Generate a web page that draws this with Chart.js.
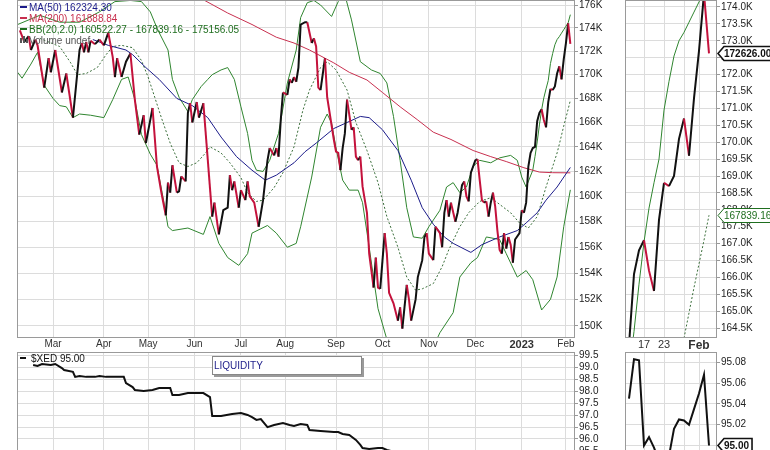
<!DOCTYPE html>
<html lang="en">
  <head>
    <meta charset="UTF-8" />
    <title>$XED Liquidity</title>
    <script src="https://cdn.jsdelivr.net/npm/chart.js"></script>
    <style>
      html, body { margin: 0; padding: 0; background: #fff; overflow: hidden; }
      canvas { position: absolute; }
    </style>
  </head>
  <body>
    <canvas id="mainChart" width="620" height="350" style="left:0;top:0"></canvas>
    <canvas id="zoomChart" width="150" height="350" style="left:620px;top:0"></canvas>
    <canvas id="xedChart" width="620" height="130" style="left:0;top:350px"></canvas>
    <canvas id="xedZoomChart" width="150" height="130" style="left:620px;top:350px"></canvas>
    <script>
      // x values are trading-day numbers, day 0 = early Feb 2022
      const monthDays = [16, 39, 59, 80, 101, 121, 144, 165, 186, 207, 228, 248];
      const monthLabels = ["Mar", "Apr", "May", "Jun", "Jul", "Aug", "Sep", "Oct", "Nov", "Dec", "2023", "Feb"];

      const zoomDays = [237, 241, 245, 248];
      const zoomLabels = ["17", "23", "", "Feb"];

      // price in thousands (swing points up to Jan 10)
      const closeDays = [1,3,5,6,8,9,12,14,15,17,20,22,25,28,29,30,31,32,33,35,37,39,41,43,44,45,47,49,51,53,55,57,58,61,63,65,67,68,69,70,72,73,74,76,77,78,79,81,82,84,88,89,91,93,95,96,97,98,100,101,103,104,105,107,109,111,113,114,116,117,118,119,120,122,123,124,125,126,127,128,130,131,133,134,135,136,137,139,140,143,144,145,146,147,148,149,151,152,153,154,155,156,158,159,161,162,163,164,166,167,168,170,172,173,174,176,177,178,180,181,183,184,185,186,188,189,191,192,193,194,195,196,198,199,201,202,203,204,205,207,208,209,210,211,212,213,214,215,216,217,218,219,220,221,222,223,224,225,227,228,229,230,231,232,233];
      const closeValues = [173.8,172.8,173.3,172.1,173.0,172.5,168.9,171.4,170.2,172.1,168.5,170.1,166.4,172.1,172.7,171.9,172.8,171.9,172.9,172.6,173.0,172.5,173.6,171.5,169.8,171.4,169.8,171.1,171.8,167.9,165.0,166.6,164.3,167.2,162.4,160.3,158.5,161.1,160.3,162.5,160.3,160.4,161.6,161.2,166.8,167.6,166.0,167.7,166.4,167.6,158.4,159.5,157.0,158.9,159.1,161.7,160.5,161.2,159.1,160.5,159.7,161.2,160.0,159.5,157.6,159.7,162.9,163.9,163.3,163.9,163.2,166.2,168.5,168.3,169.6,169.3,169.8,169.4,170.6,174.3,174.5,174.5,172.7,173.1,172.4,168.9,168.7,171.4,168.1,164.6,163.6,163.5,162.1,163.9,165.1,167.9,165.4,165.6,163.2,162.9,163.2,160.8,158.7,155.5,152.9,155.2,152.9,152.8,157.1,155.5,152.5,151.7,150.4,151.4,149.8,153.1,152.0,150.4,152.0,153.7,155.0,156.8,157.1,155.5,155.0,157.6,157.1,156.0,158.7,159.7,158.4,159.5,158.0,158.7,160.9,161.2,160.0,159.6,161.9,162.9,163.0,161.3,159.7,159.5,159.6,158.4,159.5,160.3,159.2,157.3,155.8,155.5,157.1,155.9,156.8,156.2,154.8,156.6,157.1,158.9,158.7,159.5,162.4,163.5,163.9];

      // last 17 sessions, Jan 11 - Feb 3 (shown in the zoom panels)
      const recentDays = [234,235,236,237,238,239,240,241,242,243,244,245,246,247,248,249,250];
      const recentClose = [164.0,166.1,166.8,167.1,166.2,165.6,167.7,168.8,168.7,169.0,170.1,170.7,169.6,171.3,172.7,174.4,172.626];
      const recentUpper = [163.2,164.4,165.8,167.05,168.05,168.8,169.5,170.95,171.8,172.55,173.0,173.25,173.55,173.85,174.15,174.45,175.15605];
      const recentXed = [95.045,95.083,95.082,95.0,95.008,94.998,94.985,94.98,94.99,95.016,95.025,95.024,95.02,95.035,95.05,95.068,95.0];
      const recentMidDays = [245,246,247,248,249,250];
      const recentMid = [164.2,164.95,165.7,166.4,167.1,167.83916];

      const ma50Days = [34,41,49,52,58,64,72,79,86,92,99,106,112,117,125,130,135,143,149,155,159,165,172,178,183,188,193,197,205,210,218,226,230,235,239,244,250];
      const ma50Values = [173.0,172.5,172.1,171.7,170.6,169.6,168.0,167.4,166.4,164.8,163.2,162.1,161.3,161.7,162.7,163.6,164.3,165.5,166.0,166.5,166.4,165.4,163.7,161.3,159.1,157.8,156.8,156.3,155.6,156.2,156.8,157.3,157.9,158.7,159.7,160.75,162.3243];

      const ma200Days = [78,95,106,117,125,132,143,150,158,165,173,181,188,196,206,214,221,229,236,242,250];
      const ma200Values = [177.1,175.3,174.3,173.2,172.7,172.1,171.0,170.2,169.55,168.5,167.3,166.2,165.2,164.6,163.7,163.2,162.8,162.3,161.95,161.9,161.88884];

      const bbUpperDays = [0,10,19,28,37,44,51,56,60,63,64,68,70,73,77,79,83,86,88,92,95,98,101,104,106,108,111,114,118,122,126,128,131,134,137,142,145,148,151,155,160,164,167,170,173,176,179,183,186,191,194,197,200,203,206,209,214,218,223,226,228,230,233];
      const bbUpperValues = [174.3,175.1,174.5,174.5,175.4,176.3,176.4,176.3,175.4,174.0,173.6,172.1,169.6,168.1,166.9,167.9,169.0,169.6,170.0,170.4,170.6,169.6,167.3,165.1,162.9,162.1,162.0,162.9,165.1,169.3,172.1,174.9,176.2,176.4,176.0,175.0,176.3,176.9,174.7,171.1,170.4,170.1,169.3,166.5,162.9,159.1,156.8,156.7,157.6,158.9,160.75,161.1,160.3,160.75,162.4,162.9,162.7,163.1,163.3,162.9,161.55,160.75,162.1];

      const bbMidDays = [10,19,24,27,31,36,40,43,47,52,56,59,62,65,69,73,77,81,85,87,92,96,101,104,108,111,116,120,125,129,132,137,140,144,149,153,158,163,167,172,176,180,183,188,192,195,200,204,209,214,217,223,227,231,235,239,244];
      const bbMidValues = [173.1,172.4,171.0,170.0,170.1,170.6,171.7,172.4,172.5,172.3,171.2,169.8,168.1,166.4,164.3,162.7,162.4,162.7,163.5,164.0,163.5,162.7,161.5,160.3,159.6,159.7,160.7,161.9,164.0,167.0,168.7,170.6,171.1,170.4,168.7,166.0,163.7,161.1,158.4,156.0,153.7,152.7,152.8,153.2,154.5,155.8,157.6,158.7,159.6,159.9,159.5,158.7,157.9,157.5,158.4,160.75,163.5];

      const bbLowerDays = [0,2,6,9,12,16,19,22,25,28,33,39,43,47,50,53,56,60,63,66,68,70,77,84,87,91,95,100,104,106,113,117,122,126,128,133,137,140,142,144,147,150,154,156,159,163,167,171,178,184,189,191,197,200,205,208,212,218,221,226,230,233,237,241,244,247,250];
      const bbLowerValues = [170.2,169.7,170.9,171.9,169.1,168.0,167.4,167.3,166.4,166.7,166.6,166.4,167.9,169.6,169.8,167.9,165.0,163.4,162.5,159.7,157.6,157.3,157.5,157.0,158.4,156.3,155.2,154.6,155.5,157.1,157.7,157.1,156.0,156.3,157.6,161.55,165.6,166.7,165.95,163.9,161.3,160.5,160.5,159.5,156.0,151.3,149.0,148.2,147.5,147.8,148.8,149.5,151.0,153.7,154.8,155.2,156.8,156.6,155.5,153.7,154.2,153.5,151.2,152.0,153.7,157.6,160.52227];

      const xedDays = [7,9,11,15,17,20,21,25,26,28,31,35,37,40,43,48,49,52,53,57,61,64,69,70,73,77,79,84,87,88,92,97,101,104,106,108,110,113,116,120,123,125,128,131,132,137,143,145,147,150,153,155,156,159,163,165,167,175,190,210,225];
      const xedValues = [99.11,99.07,99.15,99.11,99.15,98.98,98.90,98.82,98.61,98.65,98.61,98.61,98.65,98.61,98.61,98.61,98.35,98.18,98.06,98.02,98.06,98.14,98.14,97.85,97.85,97.93,97.93,97.93,97.76,96.97,96.97,97.05,97.09,97.01,96.92,96.80,96.84,96.50,96.59,96.67,96.59,96.55,96.63,96.59,96.38,96.34,96.29,96.29,96.21,96.17,95.96,95.75,95.62,95.58,95.62,95.62,95.54,95.35,95.2,95.1,95.05];

      const priceTicks = [150,152,154,156,158,160,162,164,166,168,170,172,174,176];
      const zoomTicks = [164.5,165,165.5,166,166.5,167,167.5,168,168.5,169,169.5,170,170.5,171,171.5,172,172.5,173,173.5,174];
      const xedTicks = [94.5,95,95.5,96,96.5,97,97.5,98,98.5,99,99.5];
      const xedZoomTicks = [94.98,95,95.02,95.04,95.06,95.08];

      const INK = "#111111";
      const RED = "#c4123c";
      const NAVY = "#1c1c8a";
      const MA200C = "#c8304f";
      const GREEN = "#2f852f";
      const GRID = "#dcdcdc";
      const FRAME = "#9a9a9a";
      const FONT = "'Liberation Sans', Arial, sans-serif";

      Chart.defaults.font.family = FONT;
      Chart.defaults.font.size = 10;
      Chart.defaults.color = "#222";

      const pts = (days, vals) => days.map((d, i) => ({ x: d, y: vals[i] }));
      const last = (a) => a[a.length - 1];
      const thousands = (v) => (v * 1000).toFixed(2);

      const allClose = pts(closeDays.concat(recentDays), closeValues.concat(recentClose));
      const allUpper = pts(bbUpperDays.concat(recentDays), bbUpperValues.concat(recentUpper));
      const allMid = pts(bbMidDays.concat(recentMidDays), bbMidValues.concat(recentMid));
      const allXed = pts(xedDays.concat(recentDays), xedValues.concat(recentXed));

      function flat(s) {
        s.paddingTop = 0; s.paddingBottom = 0; s.paddingLeft = 0; s.paddingRight = 0;
      }

      function yAxis(type, min, max, ticks, label, width) {
        return {
          type, position: "right", min, max,
          grid: { color: GRID, tickLength: 3, tickColor: "#999" },
          border: { display: false },
          ticks: { autoSkip: false, padding: 1, color: "#222", callback: label },
          afterBuildTicks: (s) => { s.ticks = ticks.map((v) => ({ value: v })); },
          afterFit: (s) => { s.width = width; flat(s); },
        };
      }

      function xAxis(min, max, days, labels, height, font) {
        return {
          type: "linear", min, max,
          grid: { color: GRID, drawTicks: false },
          border: { display: false },
          ticks: {
            display: height > 0, autoSkip: false, maxRotation: 0, padding: 1, color: "#333",
            callback: (v) => labels[days.indexOf(v)], font,
          },
          afterBuildTicks: (s) => { s.ticks = days.map((v) => ({ value: v })); },
          afterFit: (s) => { s.height = height; flat(s); },
        };
      }

      function line(data, color, width, extra) {
        return Object.assign({ data, borderColor: color, borderWidth: width, pointRadius: 0, tension: 0, fill: false }, extra || {});
      }

      function options(padLeft, padTop, x, y, plugins) {
        return {
          responsive: false, animation: false, devicePixelRatio: 1, events: [],
          layout: { padding: { left: padLeft, top: padTop, right: 0, bottom: 0 } },
          plugins: Object.assign({ legend: { display: false }, tooltip: { enabled: false } }, plugins || {}),
          scales: { x, y },
        };
      }

      const frame = {
        id: "frame",
        afterDraw(chart) {
          const { ctx, chartArea: a } = chart;
          ctx.save();
          ctx.strokeStyle = FRAME;
          ctx.lineWidth = 1;
          ctx.strokeRect(a.left + 0.5, a.top + 0.5, a.right - a.left - 1, a.bottom - a.top);
          ctx.restore();
        },
      };

      const tags = {
        id: "tags",
        afterDraw(chart, args, opts) {
          const { ctx, chartArea } = chart;
          const x0 = chartArea.right + 1;
          (opts.items || []).forEach((t) => {
            const y = Math.round(chart.scales.y.getPixelForValue(t.value)) + 0.5;
            ctx.save();
            ctx.font = (t.bold ? "bold " : "") + "10px " + FONT;
            const w = ctx.measureText(t.text).width + 9;
            ctx.beginPath();
            ctx.moveTo(x0, y);
            ctx.lineTo(x0 + 6, y - 7);
            ctx.lineTo(x0 + w, y - 7);
            ctx.lineTo(x0 + w, y + 7);
            ctx.lineTo(x0 + 6, y + 7);
            ctx.closePath();
            ctx.fillStyle = "#fff";
            ctx.fill();
            ctx.strokeStyle = t.color;
            ctx.lineWidth = t.bold ? 1.6 : 1;
            ctx.stroke();
            ctx.fillStyle = t.color;
            ctx.textBaseline = "middle";
            ctx.fillText(t.text, x0 + 6, y + 1);
            ctx.restore();
          });
        },
      };

      const legendRows = [
        { text: "MA(50) " + thousands(last(ma50Values)), color: NAVY },
        { text: "MA(200) " + thousands(last(ma200Values)), color: MA200C },
        { text: "BB(20,2.0) " + thousands(last(bbLowerValues)) + " - " + thousands(last(recentMid)) + " - " + thousands(last(recentUpper)), color: "#1f6e1f" },
        { text: "Volume undef", color: "#555", icon: true },
      ];

      const mainLegend = {
        id: "mainLegend",
        afterDatasetsDraw(chart) {
          const { ctx } = chart;
          ctx.save();
          ctx.font = "10px " + FONT;
          ctx.textBaseline = "middle";
          legendRows.forEach((row, k) => {
            const y = 7 + k * 11;
            ctx.fillStyle = row.color;
            if (row.icon) {
              ctx.fillRect(20, y - 2, 2, 5);
              ctx.fillRect(23, y - 4, 2, 7);
              ctx.fillRect(26, y - 1, 2, 4);
            } else {
              ctx.fillRect(20, y - 1, 7, 2);
            }
            ctx.fillText(row.text, 29, y + 1);
          });
          ctx.restore();
        },
      };

      const xedLegend = {
        id: "xedLegend",
        afterDatasetsDraw(chart) {
          const { ctx } = chart;
          ctx.save();
          // annotation box
          ctx.fillStyle = "#9a9a9a";
          ctx.fillRect(214, 8, 150, 19);
          ctx.fillStyle = "#fff";
          ctx.fillRect(212, 6, 150, 19);
          ctx.strokeStyle = "#888";
          ctx.lineWidth = 1;
          ctx.strokeRect(212.5, 6.5, 149, 18);
          ctx.font = "10px " + FONT;
          ctx.textBaseline = "middle";
          ctx.fillStyle = "#22228c";
          ctx.fillText("LIQUIDITY", 214, 16);
          // series label
          ctx.fillStyle = INK;
          ctx.fillRect(20, 7, 6, 2);
          ctx.fillText("$XED " + last(recentXed).toFixed(2), 31, 9);
          ctx.restore();
        },
      };

      const upDown = { borderColor: (c) => (c.p1.parsed.y < c.p0.parsed.y ? RED : INK) };

      new Chart(document.getElementById("mainChart"), {
        type: "line",
        data: {
          datasets: [
            line(allClose, INK, 2, { segment: upDown }),
            line(pts(ma50Days, ma50Values), NAVY, 1),
            line(pts(ma200Days, ma200Values), MA200C, 1),
            line(allMid, "#3a6e3a", 1, { borderDash: [2, 2] }),
            line(allUpper, GREEN, 1),
            line(pts(bbLowerDays, bbLowerValues), GREEN, 1),
          ],
        },
        options: options(
          17, 0,
          xAxis(-0.3, 252.1, monthDays, monthLabels, 13, (c) =>
            monthLabels[c.index] === "2023" ? { size: 11, weight: "bold" } : { size: 10 }),
          yAxis("logarithmic", 149.18, 176.44, priceTicks, (v) => v + "K", 45)
        ),
        plugins: [frame, mainLegend],
      });

      new Chart(document.getElementById("zoomChart"), {
        type: "line",
        data: {
          datasets: [
            line(pts(recentDays, recentClose), INK, 2, { segment: upDown }),
            line(pts(recentMidDays, recentMid), "#3a6e3a", 1, { borderDash: [2, 2] }),
            line(pts(recentDays, recentUpper), GREEN, 1),
          ],
        },
        options: options(
          5, 0,
          xAxis(233.2, 251.6, zoomDays, zoomLabels, 13, (c) =>
            zoomLabels[c.index] === "Feb" ? { size: 12, weight: "bold" } : { size: 11 }),
          yAxis("linear", 164.237, 174.207, zoomTicks, (v) => v.toFixed(1) + "K", 53),
          {
            tags: {
              items: [
                { value: last(recentClose), text: thousands(last(recentClose)), color: INK, bold: true },
                { value: last(recentMid), text: thousands(last(recentMid)), color: "#1f6e1f", bold: false },
              ],
            },
          }
        ),
        plugins: [frame, tags],
      });

      new Chart(document.getElementById("xedChart"), {
        type: "line",
        data: { datasets: [line(allXed, INK, 2)] },
        options: options(
          17, 2,
          xAxis(-0.3, 252.1, monthDays, monthLabels, 0),
          yAxis("linear", 94.277, 99.655, xedTicks, (v) => v.toFixed(1), 45)
        ),
        plugins: [frame, xedLegend],
      });

      new Chart(document.getElementById("xedZoomChart"), {
        type: "line",
        data: { datasets: [line(pts(recentDays, recentXed), INK, 2)] },
        options: options(
          5, 2,
          xAxis(233.2, 251.6, zoomDays, zoomLabels, 0),
          yAxis("linear", 94.9668, 95.0899, xedZoomTicks, (v) => v.toFixed(2), 53),
          { tags: { items: [{ value: last(recentXed), text: last(recentXed).toFixed(2), color: INK, bold: true }] } }
        ),
        plugins: [frame, tags],
      });
    </script>
  </body>
</html>
